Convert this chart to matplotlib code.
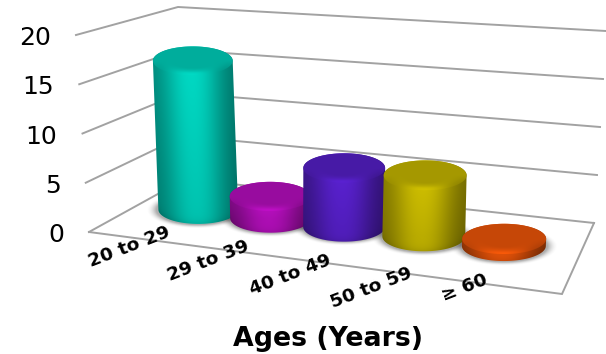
import numpy as np
import matplotlib
matplotlib.use('Agg')
import matplotlib.pyplot as plt
from matplotlib.patches import Polygon

# chart data
age_groups = ['20 to 29', '29 to 39', '40 to 49', '50 to 59', '≥ 60']
counts = [16, 2.3, 6.1, 6.2, 0.7]
y_ticks = [0, 5, 10, 15, 20]
bar_colors = [(0, 222, 200), (196, 16, 204), (92, 34, 214), (212, 196, 0), (255, 92, 10)]
x_title = 'Ages (Years)'

# box corners in pixels: (width, depth, height)
corners = {
    (0, 0, 0): (89, 232), (1, 0, 0): (562, 294),
    (0, 1, 0): (185, 179), (1, 1, 0): (594, 223),
    (0, 0, 1): (76, 35), (1, 0, 1): (575, 74),
    (0, 1, 1): (178, 7), (1, 1, 1): (606, 31),
}
y_max = 20
grid_color = '#a2a2a2'
# slot centres along the width of the box, closer together towards the far side
slots = [0.129, 0.294, 0.462, 0.644, 0.827]


def project(u, d, v):
    # trilinear map of the chart box on to the canvas
    x = y = 0
    for (a, b, c), (px, py) in corners.items():
        w = (u if a else 1 - u) * (d if b else 1 - d) * (v / y_max if c else 1 - v / y_max)
        x += w * px
        y += w * py
    return x, y


def ellipse_points(cx, cy, rx, ry, start, stop, n=60):
    t = np.linspace(start, stop, n)
    return np.column_stack([cx + rx * np.cos(t), cy + ry * np.sin(t)])


def draw_shadow(ax, cx, cy, rx, ry):
    xs = np.arange(cx - rx * 1.5, cx + rx * 1.5, 1.0)
    ys = np.arange(cy - ry * 1.8, cy + ry * 1.8, 1.0)
    gx, gy = np.meshgrid(xs, ys)
    dist = np.sqrt(((gx - cx) / (rx + 2)) ** 2 + ((gy - cy) / (ry + 1)) ** 2)
    img = np.zeros(gx.shape + (4,))
    img[..., 3] = 0.32 * np.clip((1.25 - dist) / 0.25, 0, 1) ** 2
    ax.imshow(img, extent=(xs[0], xs[-1], ys[-1], ys[0]), aspect='auto',
              interpolation='bilinear', zorder=3)


def side_shade(xn):
    shade = 0.60 + 0.38 * np.exp(-(np.abs(xn + 0.03) / 0.72) ** 2.4)
    return shade - 0.06 * np.clip(xn, 0, 1)


def draw_cylinder(ax, base, top, rx, ry, color, z):
    color = np.array(color, dtype=float) / 255
    bx, by = base
    tx, ty = top

    # side of the cylinder, shaded across its width
    pts = np.vstack([ellipse_points(bx, by, rx, ry, 0, np.pi),
                     ellipse_points(tx, ty, rx, ry, np.pi, 2 * np.pi)])
    xs = np.arange(min(bx, tx) - rx - 2, max(bx, tx) + rx + 3, 1.0)
    ys = np.arange(ty - ry - 2, by + ry + 3, 1.0)
    gx, gy = np.meshgrid(xs, ys)
    frac = (gy - ty) / max(by - ty, 1)
    mid = tx + (bx - tx) * frac
    xn = np.clip((gx - mid) / rx, -1, 1)
    shade = side_shade(xn) * (1 - 0.1 * np.clip(frac, 0, 1))
    curve = ry * np.sqrt(1 - xn ** 2)
    # rounded rim along the base
    shade = shade * (1 - 0.1 * np.exp(-np.maximum(by + curve - gy, 0) / 4))
    img = np.clip(color[None, None, :] * shade[..., None], 0, 1)
    im = ax.imshow(img, extent=(xs[0], xs[-1], ys[-1], ys[0]), aspect='auto',
                   interpolation='bilinear', zorder=z)
    side = Polygon(pts, closed=True, transform=ax.transData, fc='none', ec='none')
    ax.add_patch(side)
    im.set_clip_path(side)

    # lid, flat and darker, its front edge melting into the side
    xs = np.arange(tx - rx - 2, tx + rx + 3, 1.0)
    ys = np.arange(ty - ry - 2, ty + ry + 3, 1.0)
    gx, gy = np.meshgrid(xs, ys)
    xn = np.clip((gx - tx) / rx, -1, 1)
    r = np.sqrt(((gx - tx) / rx) ** 2 + ((gy - ty) / ry) ** 2)
    front = np.clip((gy - ty) / ry, 0, 1)
    blend = np.clip((r - 0.55) / 0.35, 0, 1) * front
    lid = 0.78 + (side_shade(xn) - 0.78) * blend
    img = np.clip(color[None, None, :] * lid[..., None], 0, 1)
    im = ax.imshow(img, extent=(xs[0], xs[-1], ys[-1], ys[0]), aspect='auto',
                   interpolation='bilinear', zorder=z + 0.1)
    cap = Polygon(ellipse_points(tx, ty, rx, ry, 0, 2 * np.pi, 90), closed=True,
                  transform=ax.transData, fc='none', ec='none')
    ax.add_patch(cap)
    im.set_clip_path(cap)


fig = plt.figure(figsize=(6.06, 3.54), dpi=100)
ax = fig.add_axes([0, 0, 1, 1])

# gridlines on the left and back walls
for tick in y_ticks:
    wall = [project(0, 0, tick), project(0, 1, tick), project(1, 1, tick)]
    ax.plot(*zip(*wall), color=grid_color, lw=1.4, zorder=1, solid_joinstyle='miter')
    fx, fy = project(0, 0, tick)
    ax.text(fx - 25, fy + 3, str(tick), ha='right', va='center', fontsize=18,
            family='DejaVu Sans', color='black', zorder=6)

# floor outline
floor = [project(0, 0, 0), project(1, 0, 0), project(1, 1, 0)]
ax.plot(*zip(*floor), color=grid_color, lw=1.4, zorder=1, solid_joinstyle='miter')

# cylinders, left to right so each one overlaps the last
for i, value in enumerate(counts):
    u = slots[i]
    base = project(u, 0.55, 0)
    top = project(u, 0.55, value)
    rx = 39.5 + 3 * u
    ry = rx * 0.36
    draw_shadow(ax, base[0], base[1], rx, ry)
    draw_cylinder(ax, base, top, rx, ry, bar_colors[i], 4 + i)

# category labels along the front edge
label_centres = [(129, 247), (208, 261), (290, 275), (371, 288), (464, 288)]
for name, (lx, ly) in zip(age_groups, label_centres):
    ax.text(lx, ly, name, rotation=21, ha='center', va='center', fontsize=13.3,
            fontweight='bold', family='DejaVu Sans', color='black', zorder=12,
            rotation_mode='anchor')

ax.text(328, 339, x_title, ha='center', va='center', fontsize=19.3,
        fontweight='bold', family='DejaVu Sans', color='black', zorder=12)

ax.set_xlim(0, 606)
ax.set_ylim(354, 0)
ax.axis('off')
fig.savefig('out.png', dpi=100, facecolor='white')
